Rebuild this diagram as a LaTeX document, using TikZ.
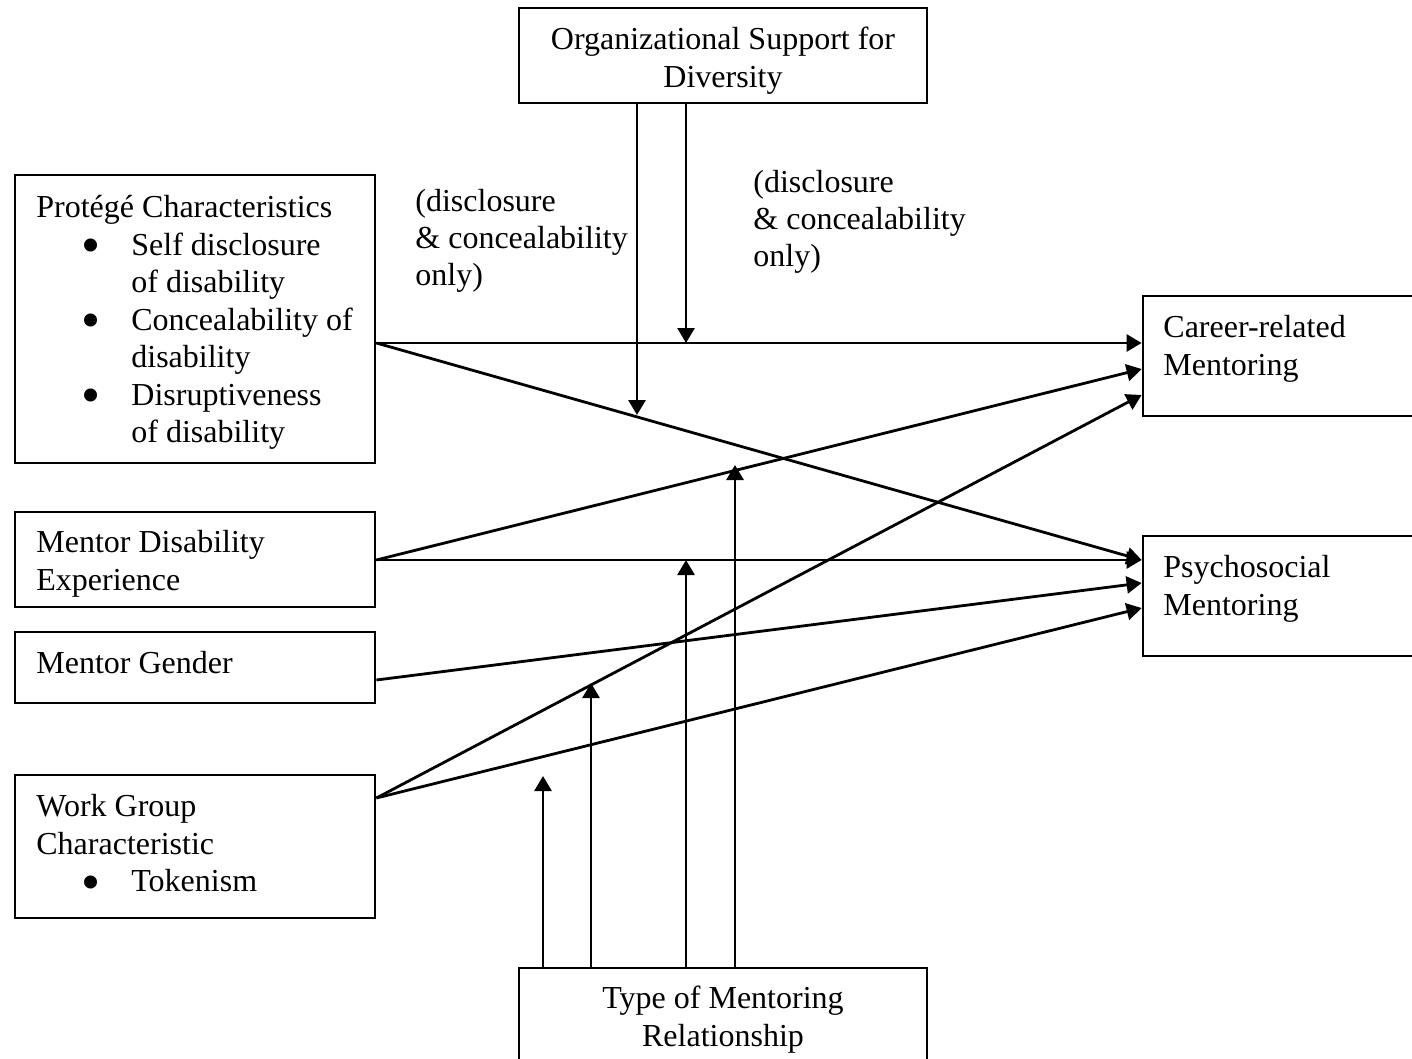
\documentclass[tikz,border=0pt]{standalone}
\usepackage{fontspec}
\setmainfont{Liberation Serif}
\usetikzlibrary{arrows.meta,fit,calc}
\newcommand{\bigbul}{\raisebox{-4.2pt}{\scalebox{1.7}{\textbullet}}}
\begin{document}
\begin{tikzpicture}[x=0.5pt,y=-0.5pt,
  box/.style={draw, line width=1.4pt, inner sep=0pt, rectangle},
  fnt/.style={font=\fontsize{16pt}{18.75pt}\selectfont},
  txt/.style={fnt, inner sep=0pt, align=left, anchor=north west},
  ctxt/.style={fnt, inner sep=0pt, align=center, anchor=north},
  ann/.style={inner sep=0pt, align=left, anchor=north west, font=\fontsize{16pt}{18.4pt}\selectfont},
  arr/.style={line width=1.4pt, -{Triangle[length=7.5pt,width=8.5pt]}}]
\useasboundingbox (0,0) rectangle (1412,1059);

% boxes
\node[box, fit={(519,8) (927,103)}] (org) {};
\node[box, fit={(15,175) (375,463)}] (prot) {};
\node[box, fit={(15,512) (375,607)}] (mde) {};
\node[box, fit={(15,632) (375,703)}] (mg) {};
\node[box, fit={(15,775) (375,918)}] (wg) {};
\node[box, fit={(519,968) (927,1066)}] (type) {};
\node[box, fit={(1143,296) (1422,416)}] (career) {};
\node[box, fit={(1143,536) (1422,656)}] (psych) {};

% texts
\node[ctxt] (orgt) at (org.north |- 0,27) {Organizational Support for\\Diversity};
\node[ctxt] (typet) at (type.north |- 0,986) {Type of Mentoring\\Relationship};
\node[txt] (prott) at (36,195) {Protégé Characteristics\\
\hspace*{22.5pt}\makebox[25pt][l]{\bigbul}Self disclosure\\
\hspace*{47.5pt}of disability\\
\hspace*{22.5pt}\makebox[25pt][l]{\bigbul}Concealability of\\
\hspace*{47.5pt}disability\\
\hspace*{22.5pt}\makebox[25pt][l]{\bigbul}Disruptiveness\\
\hspace*{47.5pt}of disability};
\node[txt] (mdet) at (36,530) {Mentor Disability\\Experience};
\node[txt] (mgt) at (36,651) {Mentor Gender};
\node[txt] (wgt) at (36,794) {Work Group\\Characteristic\\
\hspace*{22.5pt}\makebox[25pt][l]{\bigbul}Tokenism};
\node[txt] (careert) at (1163,315) {Career-related\\Mentoring};
\node[txt] (psycht) at (1163,555) {Psychosocial\\Mentoring};
\node[ann] (annl) at (415,189) {(disclosure\\\& concealability\\only)};
\node[ann] (annr) at (753,170) {(disclosure\\\& concealability\\only)};

% ports
\coordinate (pOut) at (prot.east |- 0,343);
\coordinate (mdOut) at (mde.east |- 0,560);
\coordinate (mgOut) at (mg.east |- 0,680);
\coordinate (wgOut) at (wg.east |- 0,798);
\coordinate (cIn1) at (career.west |- 0,343);
\coordinate (cIn2) at (career.west |- 0,369);
\coordinate (cIn3) at (career.west |- 0,395);
\coordinate (sIn1) at (psych.west |- 0,560);
\coordinate (sIn2) at (psych.west |- 0,583);
\coordinate (sIn3) at (psych.west |- 0,608);

% main paths
\draw[arr] (pOut) -- (cIn1);
\draw[arr] (pOut) -- (sIn1);
\draw[arr] (mdOut) -- (cIn2);
\draw[arr] (mdOut) -- (sIn1);
\draw[arr] (mgOut) -- (sIn2);
\draw[arr] (wgOut) -- (cIn3);
\draw[arr] (wgOut) -- (sIn3);

% moderators from organizational support
\coordinate (o1t) at (637,415);
\coordinate (o2t) at (686,343);
\draw[arr] (org.south -| o1t) -- (o1t);
\draw[arr] (org.south -| o2t) -- (o2t);

% moderators from type of mentoring relationship
\coordinate (t1t) at (543,776);
\coordinate (t2t) at (591,683);
\coordinate (t3t) at (686,560);
\coordinate (t4t) at (735,465);
\draw[arr] (type.north -| t1t) -- (t1t);
\draw[arr] (type.north -| t2t) -- (t2t);
\draw[arr] (type.north -| t3t) -- (t3t);
\draw[arr] (type.north -| t4t) -- (t4t);
\end{tikzpicture}
\end{document}
